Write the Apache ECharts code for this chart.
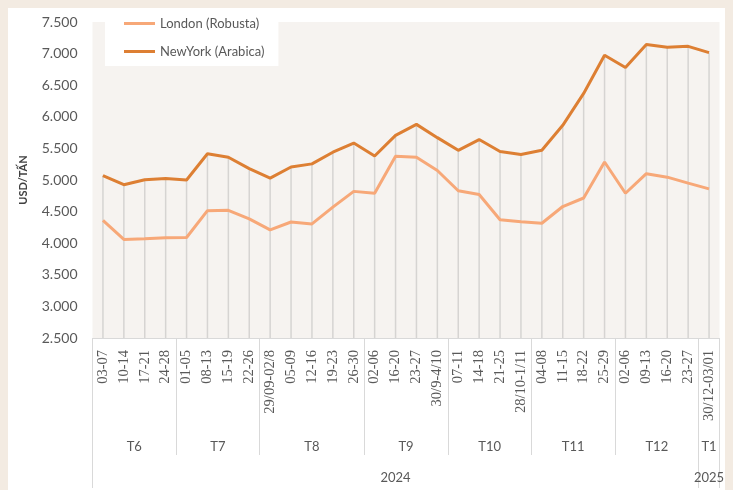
<!DOCTYPE html>
<html>
<head>
<meta charset="utf-8">
<script src="https://cdn.jsdelivr.net/npm/echarts@6/dist/echarts.min.js"></script>
<style>
  html, body { margin: 0; padding: 0; background: #f3ebe2; }
  #card { position: absolute; left: 8px; top: 8px; width: 717px; height: 482px; background: #ffffff; }
  #chart { position: absolute; left: 0; top: 0; width: 733px; height: 490px; }
</style>
</head>
<body>
<div id="card"></div>
<div id="chart"></div>
<script>
// tuần (trục x cấp 1)
const weeks = [
  '03-07', '10-14', '17-21', '24-28',
  '01-05', '08-13', '15-19', '22-26',
  '29/09-02/8', '05-09', '12-16', '19-23', '26-30',
  '02-06', '16-20', '23-27', '30/9-4/10',
  '07-11', '14-18', '21-25', '28/10-1/11',
  '04-08', '11-15', '18-22', '25-29',
  '02-06', '09-13', '16-20', '23-27',
  '30/12-03/01'
];
// tháng: tên + số tuần
const months = ['T6', 'T7', 'T8', 'T9', 'T10', 'T11', 'T12', 'T1'];
const monthSizes = [4, 4, 5, 4, 4, 4, 4, 1];
const years = ['2024', '2025'];
const yearSizes = [29, 1];

const london = [
  4360, 4060, 4070, 4085, 4090, 4515, 4520, 4385,
  4210, 4335, 4305, 4570, 4820,
  4790, 5375, 5360, 5150,
  4830, 4770, 4370, 4340,
  4315, 4580, 4715, 5285,
  4790, 5100, 5045, 4950,
  4860
];
const newYork = [
  5070, 4925, 5005, 5025, 5000, 5415, 5360, 5180,
  5030, 5205, 5255, 5440, 5585,
  5380, 5705, 5880, 5670,
  5470, 5640, 5450, 5405,
  5470, 5865, 6370, 6975,
  6780, 7145, 7100, 7115,
  7015
];

const yTicks = [2500, 3000, 3500, 4000, 4500, 5000, 5500, 6000, 6500, 7000, 7500];

// biên nhóm và tâm nhóm, tính theo số tuần
function edges(sizes) {
  let acc = 0, out = [0];
  sizes.forEach(s => { acc += s; out.push(acc); });
  return out;
}
function centers(sizes) {
  let acc = 0, out = [];
  sizes.forEach(s => { out.push(acc + s / 2); acc += s; });
  return out;
}
const monthEdges = edges(monthSizes);
const monthCenters = centers(monthSizes);
const yearEdges = edges(yearSizes);
const yearCenters = centers(yearSizes);

const dropData = weeks.map((w, i) => [i, Math.max(london[i], newYork[i])]);

const fmt = v => String(v).replace(/\B(?=(\d{3})+(?!\d))/g, '.');
const gray = '#595959';
const n = weeks.length;

const chart = echarts.init(document.getElementById('chart'));
const options = {
  animation: false,
  grid: {
    left: 92.5, width: 627, top: 22, height: 316,
    show: true, backgroundColor: '#f6f3f0', borderWidth: 0
  },
  legend: {
    orient: 'vertical', left: 105, top: 10,
    padding: [7, 14, 8, 19],
    backgroundColor: '#ffffff',
    itemWidth: 31, itemHeight: 3, itemGap: 15,
    textStyle: { fontFamily: 'Lato', fontSize: 13, color: gray },
    data: [
      { name: 'London (Robusta)', icon: 'rect' },
      { name: 'NewYork (Arabica)', icon: 'rect' }
    ]
  },
  xAxis: [
    {
      type: 'category', data: weeks, gridIndex: 0,
      axisLine: { lineStyle: { color: '#d9d9d9', width: 1 } },
      axisTick: { show: false },
      axisLabel: {
        interval: 0, rotate: 90, margin: 12,
        fontFamily: 'Liberation Serif', fontSize: 14.5, color: gray
      }
    },
    {
      type: 'value', min: 0, max: n, gridIndex: 0, position: 'bottom',
      axisLine: { show: false }, splitLine: { show: false },
      axisTick: { show: true, customValues: monthEdges, length: 117, lineStyle: { color: '#d9d9d9' } },
      axisLabel: {
        customValues: monthCenters, margin: 102,
        fontFamily: 'Lato', fontSize: 13, color: gray,
        formatter: v => months[monthCenters.indexOf(v)]
      }
    },
    {
      type: 'value', min: 0, max: n, gridIndex: 0, position: 'bottom',
      axisLine: { show: false }, splitLine: { show: false },
      axisTick: { show: true, customValues: yearEdges, length: 150, lineStyle: { color: '#d9d9d9' } },
      axisLabel: {
        customValues: yearCenters, margin: 133,
        fontFamily: 'Lato', fontSize: 13, color: gray,
        formatter: v => years[yearCenters.indexOf(v)]
      }
    }
  ],
  yAxis: {
    type: 'value', min: yTicks[0], max: yTicks[yTicks.length - 1], interval: 500,
    name: 'USD/TẤN', nameLocation: 'middle', nameRotate: 90, nameGap: 64,
    nameTextStyle: { fontFamily: 'Lato', fontSize: 11, fontWeight: 'bold', color: '#404040' },
    axisLine: { show: false }, axisTick: { show: false },
    splitLine: { show: false },
    axisLabel: { margin: 15, fontFamily: 'Lato', fontSize: 14, color: gray, formatter: fmt }
  },
  series: [
    {
      // đường gióng xuống trục
      type: 'custom', name: 'drop', xAxisIndex: 0, z: 1, silent: true,
      data: dropData,
      renderItem: (params, api) => {
        const top = api.coord([api.value(0), api.value(1)]);
        const bottom = api.coord([api.value(0), yTicks[0]]);
        return {
          type: 'line',
          shape: { x1: top[0], y1: top[1], x2: bottom[0], y2: bottom[1] },
          style: { stroke: '#d6d4d2', lineWidth: 1.5 }
        };
      }
    },
    {
      name: 'London (Robusta)', type: 'line', xAxisIndex: 0, data: london,
      symbol: 'none', z: 3,
      lineStyle: { color: '#f7a878', width: 3 }, itemStyle: { color: '#f7a878' }
    },
    {
      name: 'NewYork (Arabica)', type: 'line', xAxisIndex: 0, data: newYork,
      symbol: 'none', z: 3,
      lineStyle: { color: '#dd7f33', width: 3 }, itemStyle: { color: '#dd7f33' }
    }
  ]
};
chart.setOption(options);
</script>
</body>
</html>
